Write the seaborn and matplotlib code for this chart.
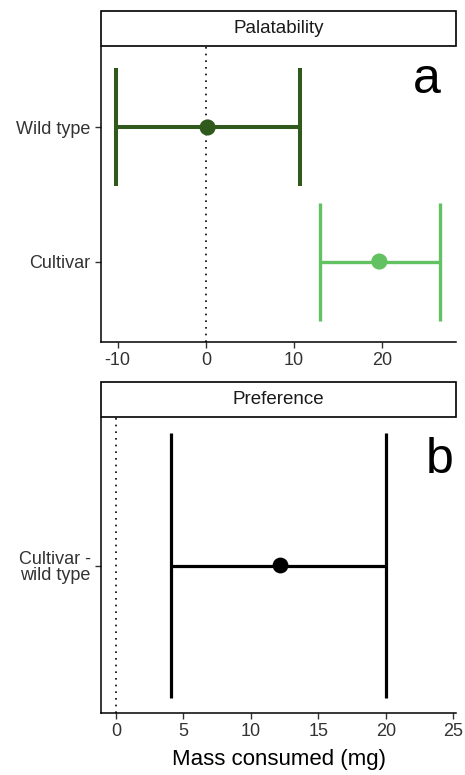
import matplotlib.pyplot as plt
import pandas as pd
import seaborn as sns
from matplotlib.patches import Rectangle

# Palatability panel (a)
palat_groups = ["Wild type", "Cultivar"]
palat_mean = [0.2, 19.7]
palat_low = [-10.2, 13.0]
palat_high = [10.7, 26.6]
palat_colors = ["#2f5a1c", "#62c160"]

# Preference panel (b)
pref_groups = ["Cultivar -\nwild type"]
pref_mean = [12.2]
pref_low = [4.1]
pref_high = [20.0]
pref_colors = ["#000000"]

sns.set_theme(style="ticks")
plt.rcParams['font.family'] = ['Liberation Sans', 'DejaVu Sans']
plt.rcParams['axes.unicode_minus'] = False

W, H = 465, 775
fig = plt.figure(figsize=(W / 100, H / 100), dpi=100)


def box(x0, y0, x1, y1):
    # pixel box (from top-left) -> figure fraction
    return [x0 / W, 1 - y1 / H, (x1 - x0) / W, (y1 - y0) / H]


def strip(rect, label):
    sax = fig.add_axes(rect)
    sax.set_axis_off()
    sax.add_patch(Rectangle((0, 0), 1, 1, transform=sax.transAxes, facecolor="white",
                            edgecolor="black", linewidth=1.2, clip_on=False))
    sax.text(0.5, 0.5, label, ha="center", va="center", fontsize=13.5, color="#1a1a1a")


def draw_panel(ax, groups, means, lows, highs, colors, cap_half, lws, dot_size):
    df = pd.DataFrame({"group": groups, "mean": means, "low": lows, "high": highs})
    df["pos"] = range(len(df))
    for i, row in df.iterrows():
        ax.hlines(row["pos"], row["low"], row["high"], color=colors[i], linewidth=lws[i], zorder=2)
        ax.vlines([row["low"], row["high"]], row["pos"] - cap_half, row["pos"] + cap_half,
                  color=colors[i], linewidth=lws[i], zorder=2)
    sns.scatterplot(data=df, x="mean", y="pos", hue="group", palette=colors, s=dot_size,
                    edgecolor="none", legend=False, ax=ax, zorder=3)
    ax.axvline(0, color="black", linestyle=(0, (1, 3)), linewidth=1.2, zorder=1)
    ax.set_yticks(df["pos"])
    ax.set_yticklabels(df["group"], fontsize=13, color="#333333", linespacing=1.0,
                       multialignment="right")
    ax.tick_params(axis="both", length=4, width=1.0, color="#333333", labelsize=13,
                   labelcolor="#333333")
    sns.despine(ax=ax)
    for s in ["left", "bottom"]:
        ax.spines[s].set_linewidth(1.1)
        ax.spines[s].set_color("black")
    ax.set_ylabel("")
    ax.set_xlabel("")


# top panel
ax1 = fig.add_axes(box(101, 47, 456, 342))
draw_panel(ax1, palat_groups, palat_mean, palat_low, palat_high, palat_colors,
           0.44, [2.9, 2.4], 135)
ax1.set_xlim(-11.9, 28.4)
ax1.set_ylim(1.6, -0.6)
ax1.set_xticks([-10, 0, 10, 20])
ax1.text(0.918, 0.844, "a", transform=ax1.transAxes, ha="center", va="baseline",
         fontsize=36, color="black")
strip(box(101, 11, 456, 46), "Palatability")

# bottom panel
ax2 = fig.add_axes(box(101, 418, 456, 713))
draw_panel(ax2, pref_groups, pref_mean, pref_low, pref_high, pref_colors,
           0.54, [2.3], 130)
ax2.set_xlim(-1.1, 25.2)
ax2.set_ylim(0.6, -0.6)
ax2.set_xticks([0, 5, 10, 15, 20, 25])
ax2.text(0.955, 0.814, "b", transform=ax2.transAxes, ha="center", va="baseline",
         fontsize=36, color="black")
ax2.set_xlabel("Mass consumed (mg)", fontsize=16, color="black", labelpad=6)
strip(box(101, 382, 456, 417), "Preference")

fig.savefig("out.png", dpi=100)
